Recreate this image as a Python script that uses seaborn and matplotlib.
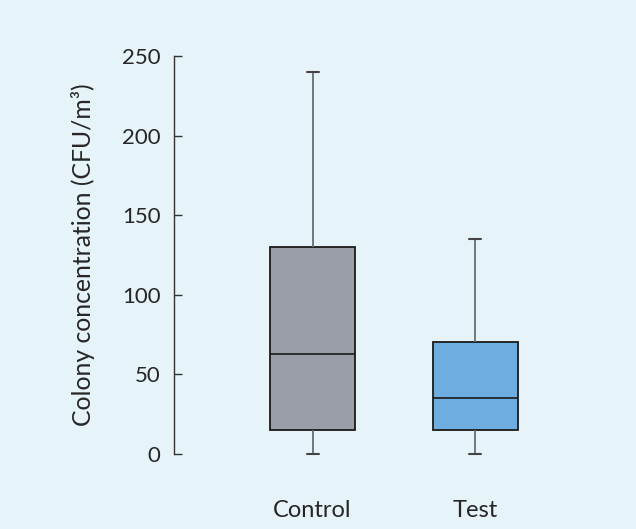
import pandas as pd
import matplotlib.pyplot as plt
import seaborn as sns

# Five-number summaries (min, Q1, median, Q3, max)
groups = ['Control', 'Test']
control = [0, 15, 63, 130, 240]
test = [0, 15, 35, 70, 135]
colors = ['#9a9ea6', '#6dade0']
bg = '#e6f3f8'

df = pd.DataFrame({
    'group': ['Control'] * len(control) + ['Test'] * len(test),
    'value': control + test,
})

sns.set_style('white')
plt.rcParams['font.family'] = ['Lato', 'DejaVu Sans']

fig, ax = plt.subplots(figsize=(6.36, 5.29), dpi=100)
fig.patch.set_facecolor(bg)
ax.set_facecolor(bg)

sns.boxplot(data=df, x='group', y='value', hue='group', order=groups,
            palette=colors, saturation=1, whis=(0, 100), width=0.52, ax=ax,
            legend=False, linewidth=1.3, linecolor='#1a1a1a',
            whiskerprops=dict(color='#666d70', linewidth=1.3),
            capprops=dict(color='#444444', linewidth=1.5),
            medianprops=dict(color='#1a1a1a', linewidth=1.2),
            showfliers=False)

# caps narrower than the box
for line in ax.lines:
    xs = line.get_xdata()
    ys = line.get_ydata()
    if len(xs) == 2 and xs[0] != xs[1] and ys[0] in (0, 240, 135):
        c = (xs[0] + xs[1]) / 2
        line.set_xdata([c - 0.037, c + 0.037])
    line.set_clip_on(False)

ax.set_xlim(-0.85, 1.87)
ax.set_ylim(0, 250)
ax.set_yticks([0, 50, 100, 150, 200, 250])
ax.spines['left'].set_color('#333333')
ax.spines['left'].set_linewidth(1.0)
for s in ['top', 'right', 'bottom']:
    ax.spines[s].set_visible(False)
ax.tick_params(axis='y', left=True, direction='in', length=6, width=1.0,
               color='#333333', labelsize=16, pad=10)
ax.tick_params(axis='x', length=0, labelsize=17, pad=33)
ax.set_xlabel('')
ax.set_ylabel('Colony concentration (CFU/m³)', fontsize=17.8, labelpad=19)

plt.subplots_adjust(left=0.274, right=0.97, top=0.894, bottom=0.142)
fig.savefig('out.png', dpi=100, facecolor=bg)
